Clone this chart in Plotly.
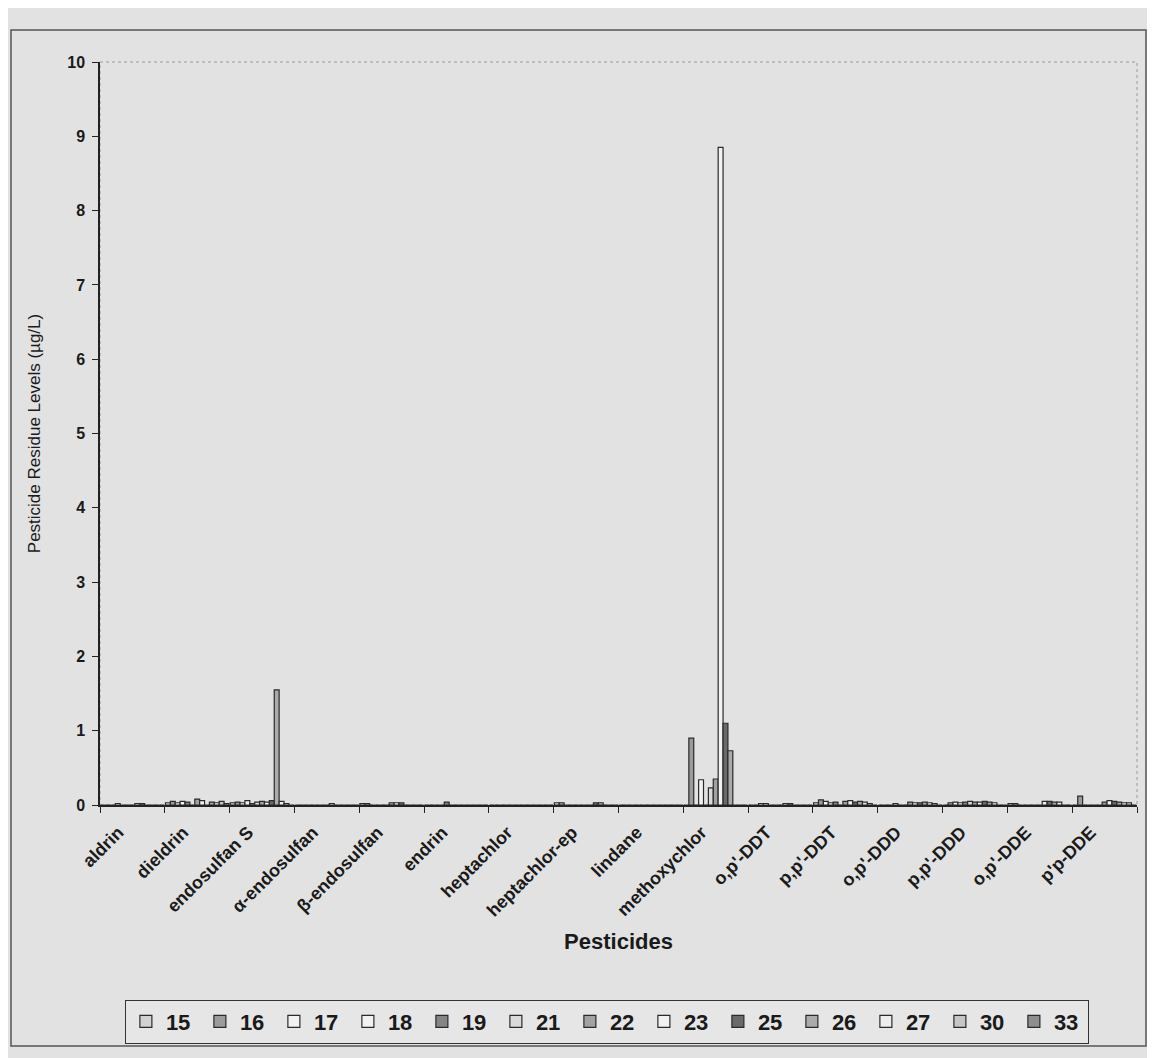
import plotly.graph_objects as go

categories = ["aldrin", "dieldrin", "endosulfan S", "α-endosulfan", "β-endosulfan",
              "endrin", "heptachlor", "heptachlor-ep", "lindane", "methoxychlor",
              "o,p'-DDT", "p,p'-DDT", "o,p'-DDD", "p,p'-DDD", "o,p'-DDE", "p'p-DDE"]

series_names = ["15", "16", "17", "18", "19", "21", "22", "23", "25", "26", "27", "30", "33"]

# values per series, one value per pesticide (same order as categories)
s15 = [0.00, 0.03, 0.03, 0.00, 0.02, 0.00, 0.00, 0.03, 0.00, 0.00, 0.00, 0.03, 0.00, 0.00, 0.02, 0.00]
s16 = [0.00, 0.05, 0.04, 0.00, 0.02, 0.00, 0.00, 0.03, 0.00, 0.90, 0.00, 0.07, 0.00, 0.03, 0.02, 0.12]
s17 = [0.00, 0.03, 0.03, 0.00, 0.00, 0.00, 0.00, 0.00, 0.00, 0.00, 0.02, 0.05, 0.00, 0.04, 0.00, 0.00]
s18 = [0.02, 0.05, 0.06, 0.00, 0.00, 0.00, 0.00, 0.00, 0.00, 0.34, 0.02, 0.03, 0.02, 0.03, 0.00, 0.00]
s19 = [0.00, 0.04, 0.02, 0.00, 0.00, 0.04, 0.00, 0.00, 0.00, 0.00, 0.00, 0.04, 0.00, 0.04, 0.00, 0.00]
s21 = [0.00, 0.00, 0.04, 0.00, 0.00, 0.00, 0.00, 0.00, 0.00, 0.23, 0.00, 0.00, 0.00, 0.05, 0.00, 0.00]
s22 = [0.00, 0.08, 0.05, 0.00, 0.03, 0.00, 0.00, 0.00, 0.00, 0.35, 0.00, 0.05, 0.04, 0.04, 0.00, 0.04]
s23 = [0.02, 0.06, 0.04, 0.02, 0.03, 0.00, 0.00, 0.00, 0.00, 8.85, 0.02, 0.06, 0.03, 0.04, 0.05, 0.06]
s25 = [0.02, 0.00, 0.06, 0.00, 0.03, 0.00, 0.00, 0.03, 0.00, 1.10, 0.02, 0.04, 0.03, 0.05, 0.05, 0.05]
s26 = [0.00, 0.04, 1.55, 0.00, 0.00, 0.00, 0.00, 0.03, 0.00, 0.73, 0.00, 0.05, 0.04, 0.04, 0.04, 0.04]
s27 = [0.00, 0.03, 0.05, 0.00, 0.00, 0.00, 0.00, 0.00, 0.00, 0.00, 0.00, 0.04, 0.03, 0.03, 0.04, 0.03]
s30 = [0.00, 0.05, 0.02, 0.00, 0.00, 0.00, 0.00, 0.00, 0.00, 0.00, 0.00, 0.02, 0.02, 0.00, 0.00, 0.03]
s33 = [0.00, 0.02, 0.00, 0.00, 0.00, 0.00, 0.00, 0.00, 0.00, 0.00, 0.00, 0.00, 0.00, 0.00, 0.00, 0.00]

series_values = [s15, s16, s17, s18, s19, s21, s22, s23, s25, s26, s27, s30, s33]

fill_colors = ["#d2d2d2", "#9c9c9c", "#f2f2f2", "#f2f2f2", "#858585", "#dadada", "#a2a2a2",
               "#f2f2f2", "#6a6a6a", "#ababab", "#eeeeee", "#c6c6c6", "#8e8e8e"]

yticks = [0, 1, 2, 3, 4, 5, 6, 7, 8, 9, 10]

FONT = "Liberation Sans, Arial, sans-serif"
BG = "#e2e2e2"

fig = go.Figure()
for name, vals, col in zip(series_names, series_values, fill_colors):
    fig.add_trace(go.Bar(
        x=categories, y=vals, name=name,
        marker=dict(color=col, line=dict(color="#2a2a2a", width=1.2)),
    ))

fig.update_layout(
    width=1147, height=1050,
    barmode="group", bargap=0.02, bargroupgap=0,
    paper_bgcolor=BG, plot_bgcolor=BG,
    margin=dict(l=92, r=18, t=54, b=253, autoexpand=False),
    font=dict(family=FONT, color="#1a1a1a"),
    showlegend=True,
    legend=dict(
        orientation="h", x=0.024, y=-0.262, xanchor="left", yanchor="top",
        font=dict(family=FONT, size=22, color="#1a1a1a", weight="bold"),
        bgcolor="#e6e6e6", bordercolor="#333333", borderwidth=1,
        entrywidth=29, entrywidthmode="pixels", itemwidth=30,
        traceorder="normal",
    ),
    xaxis=dict(
        type="category", categoryorder="array", categoryarray=categories,
        tickangle=-45, tickson="boundaries", ticks="outside", ticklen=6,
        tickcolor="#222222", automargin=False,
        ticklabelshift=-14, ticklabelstandoff=8,
        showline=True, linecolor="#222222", linewidth=1.5,
        tickfont=dict(family=FONT, size=18, color="#1a1a1a", weight="bold"),
        title=dict(text="Pesticides", font=dict(family=FONT, size=22, color="#1a1a1a", weight="bold"),
                   standoff=14),
        showgrid=False,
    ),
    yaxis=dict(
        range=[0, 10], tickmode="array", tickvals=yticks, ticktext=[str(v) for v in yticks],
        ticks="outside", ticklen=6, tickcolor="#222222", automargin=False,
        ticklabelstandoff=4,
        showline=True, linecolor="#222222", linewidth=1.5,
        tickfont=dict(family=FONT, size=16, color="#1a1a1a", weight="bold"),
        title=dict(text="Pesticide Residue Levels (µg/L)",
                   font=dict(family=FONT, size=17, color="#1a1a1a"), standoff=22),
        showgrid=False, zeroline=False,
    ),
)

# plot-area border (light) and outer chart frame (page coords -> paper coords)
fig.add_shape(type="rect", xref="paper", yref="paper", x0=0, y0=0, x1=1, y1=1,
              line=dict(color="#9a9a9a", width=1, dash="dot"), layer="below")
fig.add_shape(type="rect", xref="paper", yref="paper",
              x0=(11 - 100) / 1037, y0=-(1046 - 805) / 743, x1=(1146 - 100) / 1037, y1=(805 - 30) / 743,
              line=dict(color="#555555", width=1.5), layer="below")

fig.write_html("out.html")
